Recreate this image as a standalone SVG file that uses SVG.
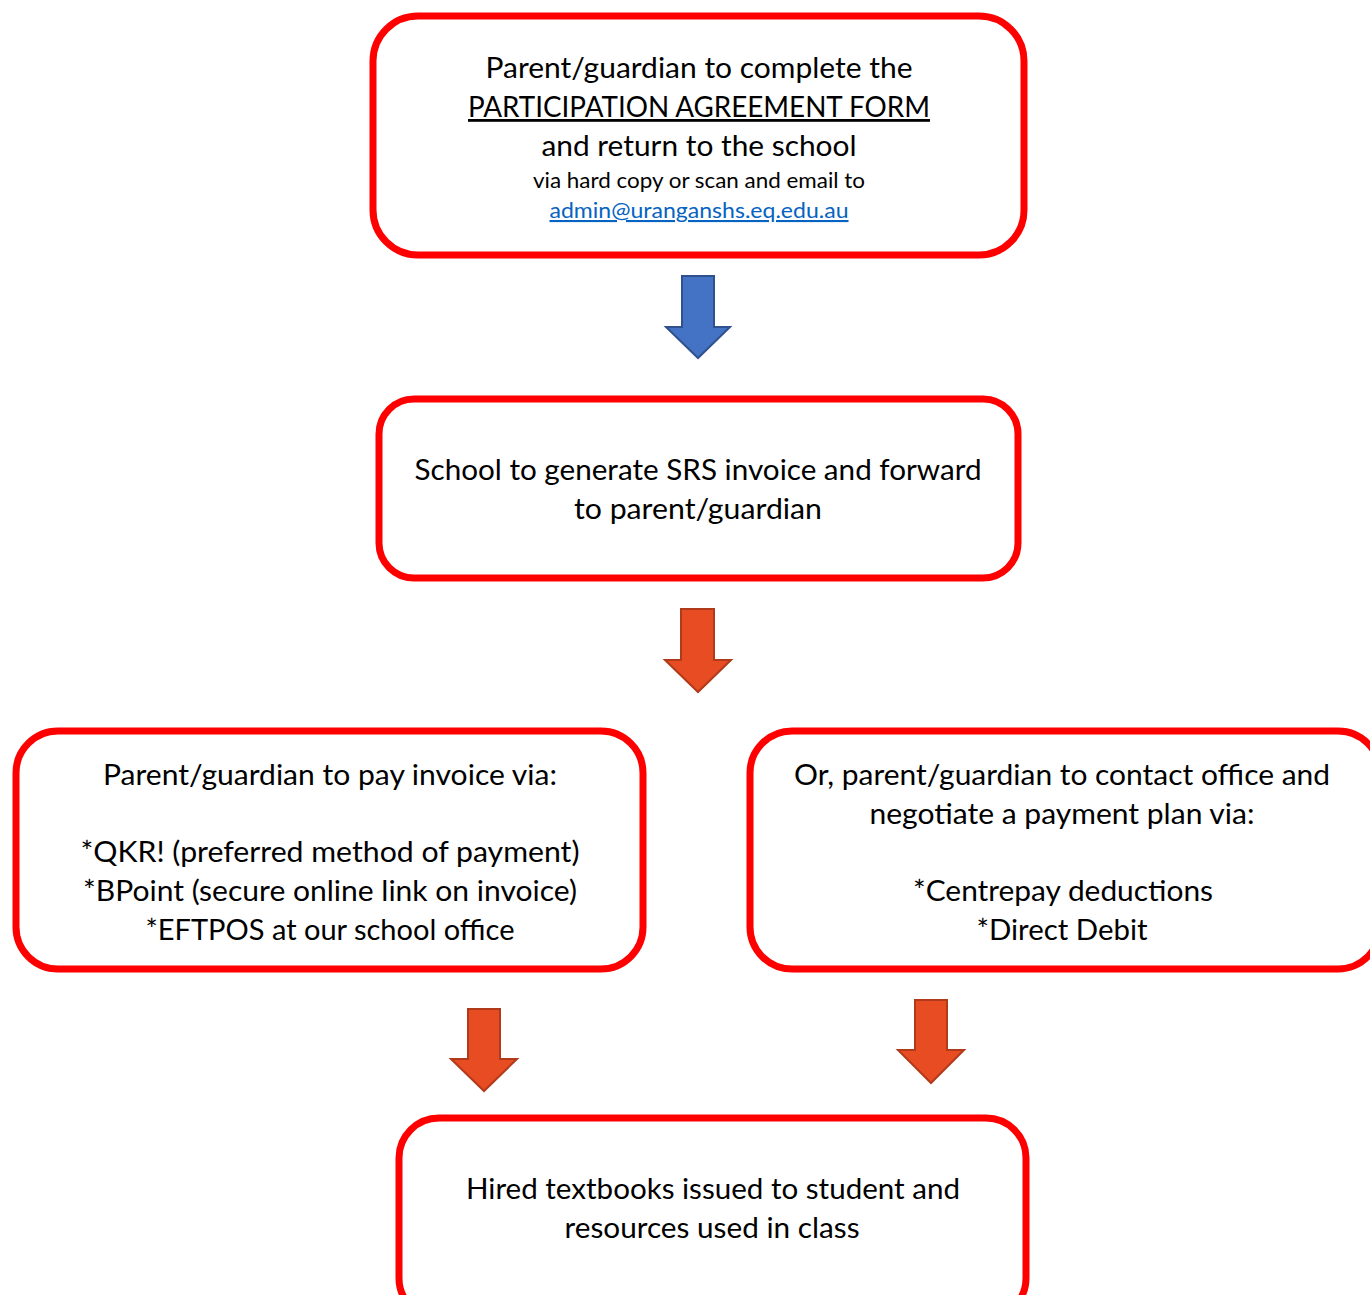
<svg xmlns="http://www.w3.org/2000/svg" width="1370" height="1295" viewBox="0 0 1370 1295">
<style>
.box{fill:#fff;stroke:#ff0000;stroke-width:7}
.t{font-family:Lato,"Open Sans","Liberation Sans",sans-serif;font-size:28px;fill:#000;text-anchor:middle}
.s{font-size:21px}
.link{fill:#0563C1;text-decoration:underline}
.blue{fill:#4472C4;stroke:#2F528F;stroke-width:2}
.orange{fill:#E84C22;stroke:#B13A1A;stroke-width:2}
</style>
<rect width="1370" height="1295" fill="#fff"/>
<g id="connectors">
<polygon class="blue" points="682,276 714,276 714,327 730,327 698,358 666,327 682,327"/>
<polygon class="orange" points="681,609 714,609 714,660 731,660 698,692 665,660 681,660"/>
<polygon class="orange" points="468,1009 500,1009 500,1059 517,1059 484,1091 451,1059 468,1059"/>
<polygon class="orange" points="915,1000 947,1000 947,1050 964,1050 931,1083 898,1050 915,1050"/>
</g>
<g id="node1">
<rect class="box" x="373" y="16" width="651" height="239" rx="45"/>
<text class="t" x="699" y="78" textLength="427" lengthAdjust="spacingAndGlyphs">Parent/guardian to complete the</text>
<text class="t" x="699" y="117" textLength="462" lengthAdjust="spacingAndGlyphs" text-decoration="underline">PARTICIPATION AGREEMENT FORM</text>
<text class="t" x="699" y="156" textLength="315" lengthAdjust="spacingAndGlyphs">and return to the school</text>
<text class="t s" x="699" y="188" textLength="332" lengthAdjust="spacingAndGlyphs">via hard copy or scan and email to</text>
<text class="t s link" x="699" y="218" textLength="299" lengthAdjust="spacingAndGlyphs">admin@uranganshs.eq.edu.au</text>
</g>
<g id="node2">
<rect class="box" x="379" y="399" width="639" height="179" rx="35"/>
<text class="t" x="698" y="480" textLength="567" lengthAdjust="spacingAndGlyphs">School to generate SRS invoice and forward</text>
<text class="t" x="698" y="519" textLength="248" lengthAdjust="spacingAndGlyphs">to parent/guardian</text>
</g>
<g id="node3">
<rect class="box" x="16" y="731" width="627" height="238" rx="42"/>
<text class="t" x="330" y="785" textLength="454" lengthAdjust="spacingAndGlyphs">Parent/guardian to pay invoice via:</text>
<text class="t" x="330" y="862" textLength="499" lengthAdjust="spacingAndGlyphs">*QKR! (preferred method of payment)</text>
<text class="t" x="330" y="901" textLength="494" lengthAdjust="spacingAndGlyphs">*BPoint (secure online link on invoice)</text>
<text class="t" x="330" y="940" textLength="369" lengthAdjust="spacingAndGlyphs">*EFTPOS at our school office</text>
</g>
<g id="node4">
<rect class="box" x="750" y="731" width="630" height="238" rx="42"/>
<text class="t" x="1062" y="785" textLength="536" lengthAdjust="spacingAndGlyphs">Or, parent/guardian to contact office and</text>
<text class="t" x="1062" y="824" textLength="385" lengthAdjust="spacingAndGlyphs">negotiate a payment plan via:</text>
<text class="t" x="1063" y="901" textLength="300" lengthAdjust="spacingAndGlyphs">*Centrepay deductions</text>
<text class="t" x="1062" y="940" textLength="171" lengthAdjust="spacingAndGlyphs">*Direct Debit</text>
</g>
<g id="node5">
<rect class="box" x="399" y="1118" width="627" height="200" rx="40"/>
<text class="t" x="713" y="1199" textLength="494" lengthAdjust="spacingAndGlyphs">Hired textbooks issued to student and</text>
<text class="t" x="712" y="1238" textLength="295" lengthAdjust="spacingAndGlyphs">resources used in class</text>
</g>
</svg>
